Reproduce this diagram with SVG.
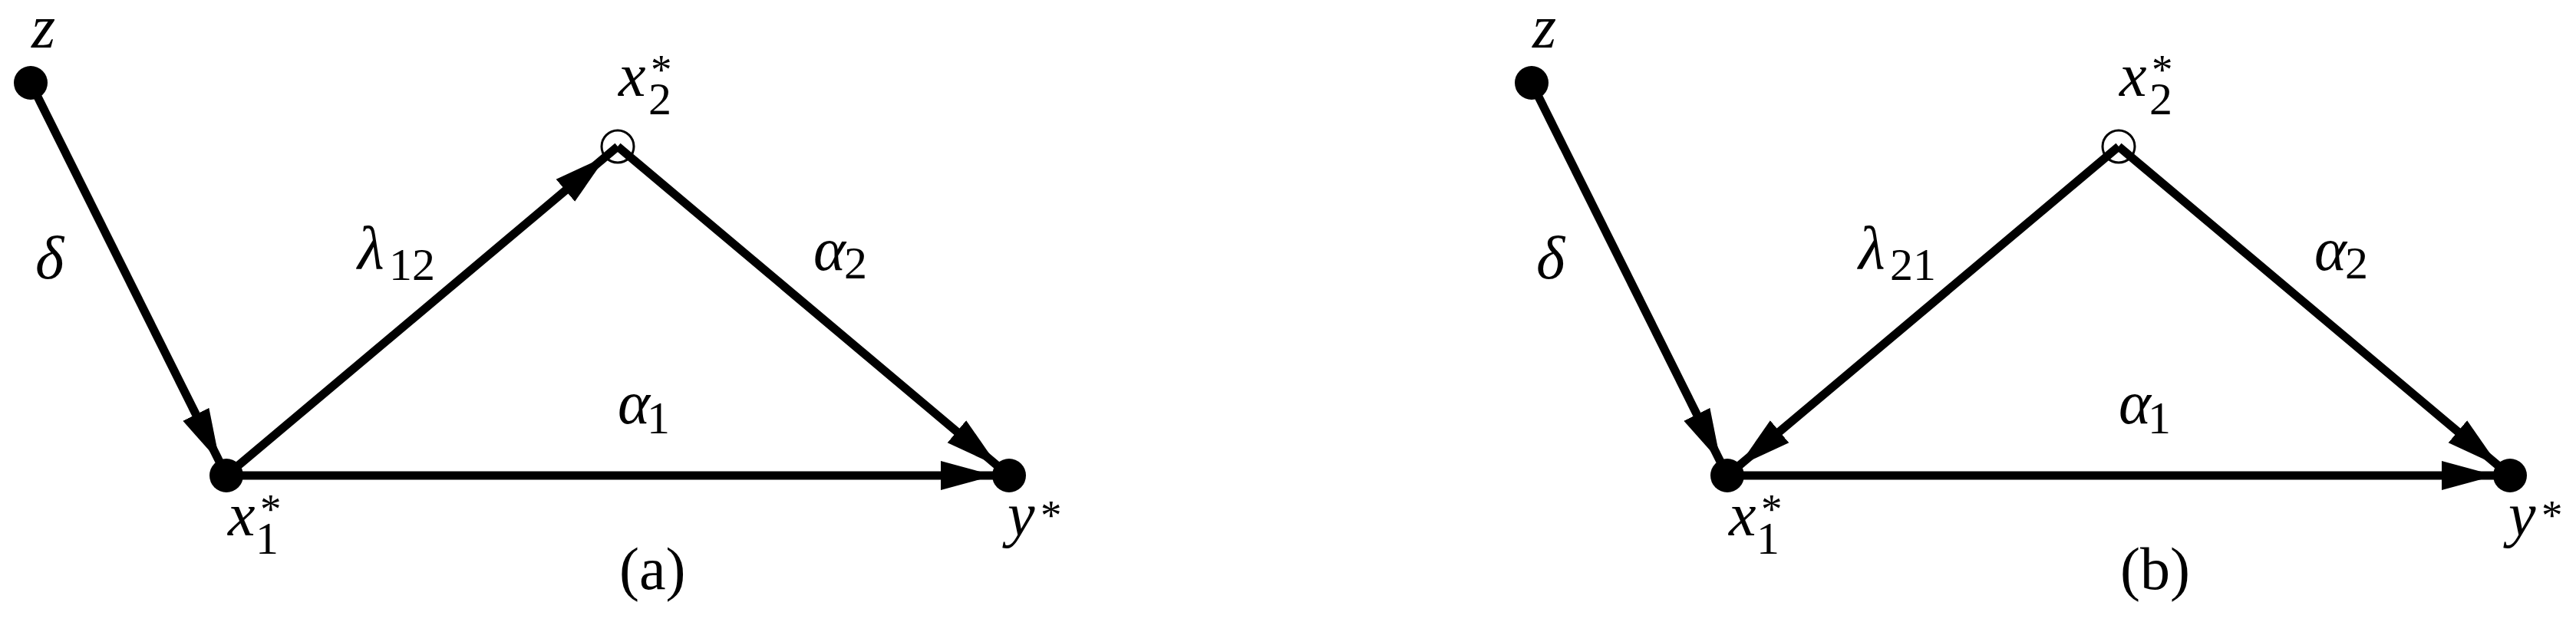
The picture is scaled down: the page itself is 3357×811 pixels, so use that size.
<svg xmlns="http://www.w3.org/2000/svg" width="3357" height="811" viewBox="0 0 3357 811">
<style>
.bg{fill:#ffffff}
.edge{stroke:#000;stroke-width:11;fill:none;marker-end:url(#ah)}
.dot{fill:#000}
.open{fill:none;stroke:#000;stroke-width:3}
text{font-family:"Liberation Serif","Times New Roman",serif;fill:#000}
.v{font-style:italic;font-size:80px}
.s{font-style:normal;font-size:60px}
.st{font-style:normal;font-size:55px}
.cap{font-size:78px}
</style>
<defs>
<marker id="ah" markerUnits="userSpaceOnUse" viewBox="0 -20 90 40" markerWidth="90" markerHeight="40" refX="89" refY="0" orient="auto">
<path d="M0,-19 L70,0 L0,19 Z" fill="#000"/>
</marker>
</defs>
<rect class="bg" x="0" y="0" width="3357" height="811"/>

<g id="panel-a">
<g id="connectors-a">
<line class="edge" x1="40" y1="108" x2="295" y2="620"/>
<line class="edge" x1="295" y1="620" x2="805" y2="191"/>
<line class="edge" x1="805" y1="191" x2="1315" y2="620"/>
<line class="edge" x1="295" y1="620" x2="1315" y2="620"/>
<text class="v" x="46" y="363">δ</text>
<text class="v" x="466" y="350">λ<tspan class="s" x="507" y="365">12</tspan></text>
<text class="v" x="1060" y="352">α<tspan class="s" x="1100" y="363">2</tspan></text>
<text class="v" x="805" y="552">α<tspan class="s" x="843" y="565">1</tspan></text>
</g>
<g id="node-z-a">
<circle class="dot" cx="40" cy="108" r="22"/>
<text class="v" x="41" y="62">z</text>
</g>
<g id="node-x1-a">
<circle class="dot" cx="295" cy="620" r="22"/>
<text class="v" x="297" y="698">x<tspan class="s" x="333" y="722">1</tspan><tspan class="st" x="339" y="682">*</tspan></text>
</g>
<g id="node-x2-a">
<circle class="open" cx="805" cy="191" r="21"/>
<text class="v" x="806" y="125">x<tspan class="s" x="845" y="149">2</tspan><tspan class="st" x="848" y="109">*</tspan></text>
</g>
<g id="node-y-a">
<circle class="dot" cx="1315" cy="620" r="22"/>
<text class="v" x="1313" y="698">y<tspan class="st" x="1356" y="690">*</tspan></text>
</g>
<text id="caption-a" class="cap" x="807" y="768">(a)</text>
</g>

<g id="panel-b" transform="translate(1956,0)">
<g id="connectors-b">
<line class="edge" x1="40" y1="108" x2="295" y2="620"/>
<line class="edge" x1="805" y1="191" x2="295" y2="620"/>
<line class="edge" x1="805" y1="191" x2="1315" y2="620"/>
<line class="edge" x1="295" y1="620" x2="1315" y2="620"/>
<text class="v" x="46" y="363">δ</text>
<text class="v" x="466" y="350">λ<tspan class="s" x="507" y="365">21</tspan></text>
<text class="v" x="1060" y="352">α<tspan class="s" x="1100" y="363">2</tspan></text>
<text class="v" x="805" y="552">α<tspan class="s" x="843" y="565">1</tspan></text>
</g>
<g id="node-z-b">
<circle class="dot" cx="40" cy="108" r="22"/>
<text class="v" x="41" y="62">z</text>
</g>
<g id="node-x1-b">
<circle class="dot" cx="295" cy="620" r="22"/>
<text class="v" x="297" y="698">x<tspan class="s" x="333" y="722">1</tspan><tspan class="st" x="339" y="682">*</tspan></text>
</g>
<g id="node-x2-b">
<circle class="open" cx="805" cy="191" r="21"/>
<text class="v" x="806" y="125">x<tspan class="s" x="845" y="149">2</tspan><tspan class="st" x="848" y="109">*</tspan></text>
</g>
<g id="node-y-b">
<circle class="dot" cx="1315" cy="620" r="22"/>
<text class="v" x="1313" y="698">y<tspan class="st" x="1356" y="690">*</tspan></text>
</g>
<text id="caption-b" class="cap" x="807" y="768">(b)</text>
</g>
</svg>
